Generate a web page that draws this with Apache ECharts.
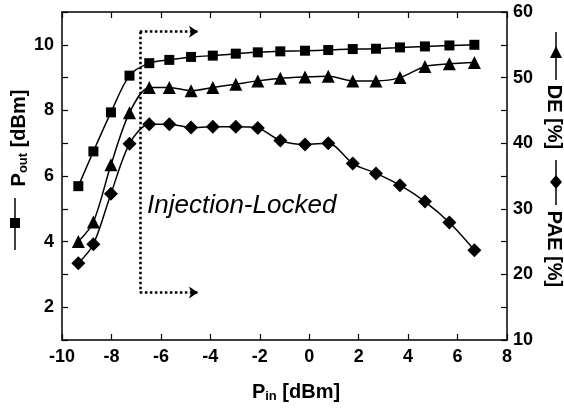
<!DOCTYPE html>
<html>
<head>
<meta charset="utf-8">
<script src="https://cdn.jsdelivr.net/npm/echarts@6/dist/echarts.min.js"></script>
<style>
  html, body { margin: 0; padding: 0; background: #fff; }
  #chart { width: 564px; height: 409px; }
</style>
</head>
<body>
<div id="chart"></div>
<script>
// input power, dBm
var pin = [-9.34, -8.73, -8.02, -7.27, -6.47, -5.66, -4.78, -3.9, -2.97, -2.08,
           -1.17, -0.17, 0.77, 1.76, 2.7, 3.67, 4.68, 5.67, 6.68];
// output power, dBm (left axis)
var pout = [5.69, 6.75, 7.94, 9.06, 9.44, 9.54, 9.63, 9.67, 9.73, 9.77,
            9.80, 9.82, 9.84, 9.87, 9.88, 9.92, 9.95, 9.98, 10.0];
// drain efficiency, % (right axis)
var de = [25.0, 28.0, 36.7, 44.65, 48.5, 48.5, 48.0, 48.5, 49.0, 49.5,
          49.9, 50.1, 50.2, 49.5, 49.5, 50.0, 51.7, 52.1, 52.3];
// power added efficiency, % (right axis)
var pae = [21.7, 24.6, 32.3, 39.9, 42.9, 42.9, 42.4, 42.5, 42.5, 42.3,
           40.4, 39.8, 40.0, 36.9, 35.4, 33.6, 31.1, 27.9, 23.7];

// dotted "injection-locked" bracket, in data coords of the left axis
var lockX = -6.85;
var lockTop = 10.4;
var lockBottom = 2.45;
var arrowEnd = -4.5;

function pairs(xs, ys) {
  return xs.map(function (x, i) { return [x, ys[i]]; });
}

var chart = echarts.init(document.getElementById('chart'));

var font = 'Liberation Sans, Arial, sans-serif';
var tickFont = { color: '#000', fontSize: 18, fontWeight: 'bold', fontFamily: font };
var frame = { onZero: false, lineStyle: { color: '#000', width: 1.5 } };
var inTick = { show: true, inside: true, length: 6, lineStyle: { color: '#000', width: 1.2 } };

var titleRich = {
  a: { fontSize: 20, fontWeight: 'bold', fontFamily: font, color: '#000' },
  s: { fontSize: 13, fontWeight: 'bold', fontFamily: font, color: '#000', verticalAlign: 'bottom', padding: [9, 0, 0, 0] }
};

option = {
  animation: false,
  grid: { left: 62, right: 57, top: 12, bottom: 69 },
  xAxis: [{
    type: 'value',
    min: -10, max: 8, interval: 2,
    axisLine: frame,
    axisTick: inTick,
    splitLine: { show: false },
    axisLabel: Object.assign({ margin: 8 }, tickFont)
  }, {
    type: 'value',
    position: 'top',
    min: -10, max: 8, interval: 2,
    axisLine: frame,
    axisTick: inTick,
    splitLine: { show: false },
    axisLabel: { show: false }
  }],
  yAxis: [{
    type: 'value',
    position: 'left',
    min: 1, max: 11, interval: 1,
    axisLine: frame,
    axisTick: inTick,
    splitLine: { show: false },
    axisLabel: Object.assign({
      margin: 8,
      formatter: function (v) { return v % 2 === 0 ? String(v) : ''; }
    }, tickFont)
  }, {
    type: 'value',
    position: 'right',
    min: 10, max: 60, interval: 5,
    axisLine: frame,
    axisTick: inTick,
    splitLine: { show: false },
    axisLabel: Object.assign({
      margin: 6,
      formatter: function (v) { return v % 10 === 0 ? String(v) : ''; }
    }, tickFont)
  }],
  series: [{
    name: 'Pout',
    type: 'line',
    yAxisIndex: 0,
    data: pairs(pin, pout),
    smooth: 0.3,
    symbol: 'rect',
    symbolSize: 10,
    itemStyle: { color: '#000' },
    lineStyle: { color: '#000', width: 1.5 },
    markLine: {
      silent: true,
      symbol: ['none', 'arrow'],
      symbolSize: 9,
      label: { show: false },
      lineStyle: { color: '#000', width: 2.5, type: 'dotted' },
      data: [
        [{ coord: [lockX, lockTop], symbol: 'none' }, { coord: [arrowEnd, lockTop], symbol: 'arrow' }],
        [{ coord: [lockX, lockTop], symbol: 'none' }, { coord: [lockX, lockBottom], symbol: 'none' }],
        [{ coord: [lockX, lockBottom], symbol: 'none' }, { coord: [arrowEnd, lockBottom], symbol: 'arrow' }]
      ]
    }
  }, {
    name: 'DE',
    type: 'line',
    yAxisIndex: 1,
    data: pairs(pin, de),
    smooth: 0.3,
    symbol: 'triangle',
    symbolSize: 13,
    itemStyle: { color: '#000' },
    lineStyle: { color: '#000', width: 1.5 }
  }, {
    name: 'PAE',
    type: 'line',
    yAxisIndex: 1,
    data: pairs(pin, pae),
    smooth: 0.3,
    symbol: 'diamond',
    symbolSize: 14,
    itemStyle: { color: '#000' },
    lineStyle: { color: '#000', width: 1.5 }
  }],
  graphic: [
    // annotation
    {
      type: 'text', left: 147, top: 193,
      style: { text: 'Injection-Locked', fontSize: 26, fontStyle: 'italic', fontFamily: font, fill: '#000' }
    },
    // x axis title
    {
      type: 'text', x: 296, y: 392,
      style: { text: '{a|P}{s|in}{a| [dBm]}', rich: titleRich, align: 'center', verticalAlign: 'middle' }
    },
    // left axis title with its series glyph
    {
      type: 'text', x: 19, y: 138, rotation: Math.PI / 2,
      style: { text: '{a|P}{s|out}{a| [dBm]}', rich: titleRich, align: 'center', verticalAlign: 'middle' }
    },
    { type: 'line', shape: { x1: 15, y1: 198, x2: 15, y2: 250 }, style: { stroke: '#000', lineWidth: 1.5 } },
    { type: 'rect', shape: { x: 10, y: 218, width: 10, height: 10 }, style: { fill: '#000' } },
    // right axis titles with their glyphs
    {
      type: 'text', x: 554, y: 117, rotation: -Math.PI / 2,
      style: { text: 'DE [%]', fontSize: 20, fontWeight: 'bold', fontFamily: font, fill: '#000',
               align: 'center', verticalAlign: 'middle' }
    },
    { type: 'line', shape: { x1: 556, y1: 32, x2: 556, y2: 80 }, style: { stroke: '#000', lineWidth: 1.5 } },
    { type: 'polygon', shape: { points: [[556, 46], [562, 58], [550, 58]] }, style: { fill: '#000' } },
    {
      type: 'text', x: 554, y: 249, rotation: -Math.PI / 2,
      style: { text: 'PAE [%]', fontSize: 20, fontWeight: 'bold', fontFamily: font, fill: '#000',
               align: 'center', verticalAlign: 'middle' }
    },
    { type: 'line', shape: { x1: 556, y1: 160, x2: 556, y2: 205 }, style: { stroke: '#000', lineWidth: 1.5 } },
    { type: 'polygon', shape: { points: [[556, 175], [562, 182], [556, 189], [550, 182]] }, style: { fill: '#000' } }
  ]
};

chart.setOption(option);
</script>
</body>
</html>
